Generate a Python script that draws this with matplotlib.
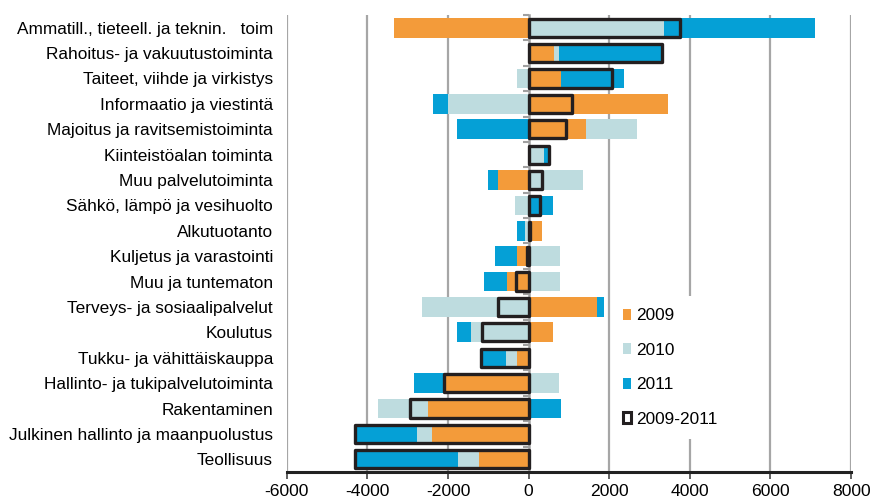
import numpy as np
import matplotlib
matplotlib.use("Agg")
import matplotlib.pyplot as plt
from matplotlib.patches import Patch

plt.rcParams['font.family'] = ['Liberation Sans', 'DejaVu Sans']
plt.rcParams['axes.unicode_minus'] = False

categories = [
    "Ammatill., tieteell. ja teknin.   toim",
    "Rahoitus- ja vakuutustoiminta",
    "Taiteet, viihde ja virkistys",
    "Informaatio ja viestintä",
    "Majoitus ja ravitsemistoiminta",
    "Kiinteistöalan toiminta",
    "Muu palvelutoiminta",
    "Sähkö, lämpö ja vesihuolto",
    "Alkutuotanto",
    "Kuljetus ja varastointi",
    "Muu ja tuntematon",
    "Terveys- ja sosiaalipalvelut",
    "Koulutus",
    "Tukku- ja vähittäiskauppa",
    "Hallinto- ja tukipalvelutoiminta",
    "Rakentaminen",
    "Julkinen hallinto ja maanpuolustus",
    "Teollisuus",
]
v2009 = [-3350, 620, 810, 3450, 1420, 0, -750, 0, 320, -300, -540, 1700, 600, -280, -2080, -2500, -2400, -1230]
v2010 = [3370, 120, -300, -2000, 1280, 390, 1350, -330, -80, 780, 780, -2650, -1440, -280, 740, -1250, -380, -520]
v2011 = [3730, 2580, 1560, -370, -1780, 110, -270, 600, -200, -530, -560, 180, -330, -620, -770, 800, -1530, -2560]

series = [("2009", v2009, "#F39B3A"),
          ("2010", v2010, "#BEDCDF"),
          ("2011", v2011, "#05A0D6")]

fig = plt.figure(figsize=(8.72, 5.0), dpi=100)
ax = fig.add_axes([0.329, 0.056, 0.647, 0.914])

y = np.arange(len(categories))
h = 0.78
pos = np.zeros(len(categories))
neg = np.zeros(len(categories))
for name, vals, col in series:
    vals = np.array(vals, dtype=float)
    left = np.where(vals >= 0, pos, neg)
    ax.barh(y, vals, left=left, height=h, color=col, zorder=2)
    pos += np.where(vals >= 0, vals, 0)
    neg += np.where(vals < 0, vals, 0)

total = np.array(v2009) + np.array(v2010) + np.array(v2011)
ax.barh(y, total, height=h * 0.92, facecolor="none", edgecolor="#231F20",
        linewidth=2.4, zorder=3, joinstyle="round")

xmin, xmax = -6000, 8000
ax.set_xlim(xmin, xmax)
ax.set_ylim(len(categories) - 0.5, -0.5)
ax.set_xticks(np.arange(-6000, 8001, 2000))
ax.set_yticks(y)
ax.set_yticklabels(categories, fontsize=12.4)
ax.tick_params(axis="y", length=0, pad=10)
ax.tick_params(axis="x", length=5, width=1.2, color="#444444", labelsize=12.6, pad=4)

for gx in np.arange(-6000, 8001, 2000):
    if gx != 0:
        ax.axvline(gx, color="#A6A6A6", lw=1.6, zorder=1)

for s in ["top", "right", "left"]:
    ax.spines[s].set_visible(False)
ax.spines["bottom"].set_linewidth(2.2)
ax.spines["bottom"].set_color("#222222")

# vertical category axis crossing at zero
zpos = (0 - xmin) / (xmax - xmin)
sec = ax.secondary_yaxis(zpos)
sec.spines["left"].set_color("#A0A0A0")
sec.spines["left"].set_linewidth(1.8)
sec.set_yticks(np.arange(-0.5, len(categories), 1.0))
sec.set_yticklabels([])
sec.tick_params(axis="y", length=4, width=1.5, color="#A0A0A0")

handles = [Patch(facecolor=c, edgecolor="none", label=n) for n, _, c in series]
handles.append(Patch(facecolor="white", edgecolor="#231F20", linewidth=2.2, label="2009-2011"))
leg = ax.legend(handles=handles, loc="upper left", bbox_to_anchor=(0.574, 0.385),
                frameon=True, fontsize=12.4, handlelength=0.5, handleheight=0.6,
                handletextpad=0.3, labelspacing=1.14, borderpad=0.7, borderaxespad=0)
leg.get_frame().set_edgecolor("none")
leg.get_frame().set_facecolor("white")
leg.get_frame().set_alpha(1)
leg.set_zorder(5)

fig.savefig("out.png", dpi=100)
